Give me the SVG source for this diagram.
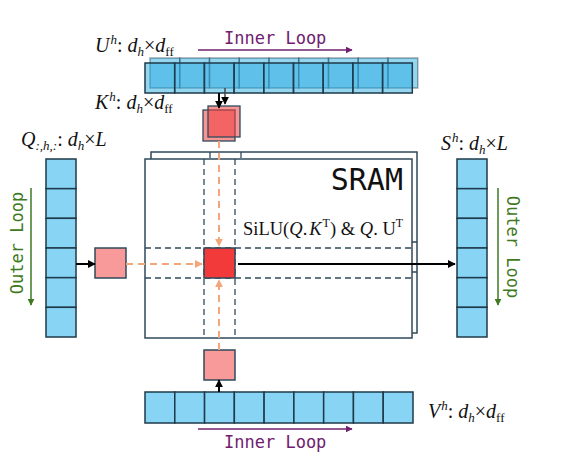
<svg xmlns="http://www.w3.org/2000/svg" width="561" height="464" viewBox="0 0 561 464">
<defs>
<style>
.cellA{fill:#29abe2;fill-opacity:0.5;stroke:#1f3a4a;stroke-opacity:0.45;stroke-width:1.5}
.cellB{fill:#29abe2;fill-opacity:0.5;stroke:#1f3a4a;stroke-width:1.5}
.cell{fill:#87d4f4;stroke:#1f3a4a;stroke-width:1.5}
.box{fill:#ffffff;stroke:#2e4a5a;stroke-width:1.5}
.dash{fill:none;stroke:#2e4a5a;stroke-width:1.3;stroke-dasharray:6,4}
.odash{fill:none;stroke:#f4a57a;stroke-width:2;stroke-dasharray:7,5}
.blk{fill:none;stroke:#000;stroke-width:2}
.pur{fill:none;stroke:#70206e;stroke-width:1.5}
.grn{fill:none;stroke:#3f7a23;stroke-width:1.5}
.math{font-family:"Liberation Serif","DejaVu Serif",serif;font-size:20px;fill:#111}
.it{font-style:italic}
.mono{font-family:"DejaVu Sans Mono","Liberation Mono",monospace;font-size:17px}
.pink{fill:#f89a9a;stroke:#2e4a5a;stroke-width:1.5}
.redt{fill:#f03c3c;fill-opacity:0.55;stroke:#2e4a5a;stroke-width:1.3}
</style>
<marker id="ab" viewBox="0 0 10 10" refX="9" refY="5" markerWidth="8" markerHeight="8" markerUnits="userSpaceOnUse" orient="auto"><path d="M0,0 L10,5 L0,10 z" fill="#000"/></marker>
<marker id="ao" viewBox="0 0 10 10" refX="9" refY="5" markerWidth="8" markerHeight="8" markerUnits="userSpaceOnUse" orient="auto"><path d="M0,0 L10,5 L0,10 z" fill="#f4a57a"/></marker>
<marker id="ap" viewBox="0 0 10 10" refX="9" refY="5" markerWidth="7" markerHeight="7" markerUnits="userSpaceOnUse" orient="auto"><path d="M0,0 L10,5 L0,10 z" fill="#70206e"/></marker>
<marker id="ag" viewBox="0 0 10 10" refX="9" refY="5" markerWidth="7" markerHeight="7" markerUnits="userSpaceOnUse" orient="auto"><path d="M0,0 L10,5 L0,10 z" fill="#3f7a23"/></marker>
</defs>

<g id="sram">
<rect class="box" x="151" y="152" width="266" height="181"/>
<line class="dash" x1="210" y1="152" x2="210" y2="333"/>
<line class="dash" x1="241" y1="152" x2="241" y2="333"/>
<line class="dash" x1="151" y1="242" x2="417" y2="242"/>
<line class="dash" x1="151" y1="272" x2="417" y2="272"/>
<rect class="box" x="145" y="159" width="267" height="179"/>
<line class="dash" x1="204" y1="159" x2="204" y2="338"/>
<line class="dash" x1="235" y1="159" x2="235" y2="338"/>
<line class="dash" x1="145" y1="248" x2="412" y2="248"/>
<line class="dash" x1="145" y1="278" x2="412" y2="278"/>
<text x="403" y="190" text-anchor="end" font-family="DejaVu Sans Mono,Liberation Mono,monospace" font-size="30" fill="#111">SRAM</text>
<text class="math" x="243" y="235" style="font-size:18.5px"><tspan>SiLU(</tspan><tspan class="it">Q</tspan><tspan>.</tspan><tspan class="it" dx="2">K</tspan><tspan font-size="12" dy="-8" dx="1">T</tspan><tspan dy="8">) &amp; </tspan><tspan class="it">Q</tspan><tspan>. U</tspan><tspan font-size="12" dy="-8">T</tspan></text>
</g>

<g id="U-K-bar">
<g>
<rect class="cellA" x="150" y="58" width="29.75" height="30"/>
<rect class="cellA" x="179.75" y="58" width="29.75" height="30"/>
<rect class="cellA" x="209.5" y="58" width="29.75" height="30"/>
<rect class="cellA" x="239.25" y="58" width="29.75" height="30"/>
<rect class="cellA" x="269" y="58" width="29.75" height="30"/>
<rect class="cellA" x="298.75" y="58" width="29.75" height="30"/>
<rect class="cellA" x="328.5" y="58" width="29.75" height="30"/>
<rect class="cellA" x="358.25" y="58" width="29.75" height="30"/>
<rect class="cellA" x="388" y="58" width="29.75" height="30"/>
</g>
<g>
<rect class="cellB" x="145" y="63" width="29.7" height="30"/>
<rect class="cellB" x="174.7" y="63" width="29.7" height="30"/>
<rect class="cellB" x="204.4" y="63" width="29.7" height="30"/>
<rect class="cellB" x="234.1" y="63" width="29.7" height="30"/>
<rect class="cellB" x="263.8" y="63" width="29.7" height="30"/>
<rect class="cellB" x="293.5" y="63" width="29.7" height="30"/>
<rect class="cellB" x="323.2" y="63" width="29.7" height="30"/>
<rect class="cellB" x="352.9" y="63" width="29.7" height="30"/>
<rect class="cellB" x="382.6" y="63" width="29.7" height="30"/>
</g>
<text class="math" x="95" y="52"><tspan class="it">U</tspan><tspan font-size="13" dy="-8" dx="1" class="it">h</tspan><tspan dy="8">: </tspan><tspan class="it">d</tspan><tspan font-size="13" dy="4" class="it">h</tspan><tspan dy="-4">×</tspan><tspan class="it">d</tspan><tspan font-size="13" dy="4">ff</tspan></text>
<text class="math" x="95" y="109"><tspan class="it">K</tspan><tspan font-size="13" dy="-8" dx="1" class="it">h</tspan><tspan dy="8">: </tspan><tspan class="it">d</tspan><tspan font-size="13" dy="4" class="it">h</tspan><tspan dy="-4">×</tspan><tspan class="it">d</tspan><tspan font-size="13" dy="4">ff</tspan></text>
<text class="mono" x="224" y="44" fill="#70206e">Inner Loop</text>
</g>

<g id="kv-tile-top">
<rect class="redt" x="203" y="110" width="32" height="31"/>
<rect class="redt" x="208" y="106" width="32" height="31"/>
</g>

<g id="Q-col">
<rect class="cell" x="46" y="159" width="30" height="29.67"/>
<rect class="cell" x="46" y="188.67" width="30" height="29.67"/>
<rect class="cell" x="46" y="218.33" width="30" height="29.67"/>
<rect class="cell" x="46" y="248" width="30" height="29.67"/>
<rect class="cell" x="46" y="277.67" width="30" height="29.67"/>
<rect class="cell" x="46" y="307.33" width="30" height="29.67"/>
<text class="math" x="21" y="146"><tspan class="it">Q</tspan><tspan font-size="13" dy="4" class="it">:,h,:</tspan><tspan dy="-4">: </tspan><tspan class="it">d</tspan><tspan font-size="13" dy="4" class="it">h</tspan><tspan dy="-4">×</tspan><tspan class="it">L</tspan></text>
<text class="mono" x="17" y="243" fill="#3f7a23" text-anchor="middle" dominant-baseline="central" transform="rotate(-90 17 243)">Outer Loop</text>
</g>

<g id="q-tile">
<rect class="pink" x="95" y="248" width="31" height="30"/>
</g>

<g id="center-tile">
<rect fill="#f33a3a" stroke="#2e4a5a" stroke-width="1.5" x="204" y="248" width="31" height="30"/>
</g>

<g id="S-col">
<rect class="cell" x="457" y="159" width="30" height="29.67"/>
<rect class="cell" x="457" y="188.67" width="30" height="29.67"/>
<rect class="cell" x="457" y="218.33" width="30" height="29.67"/>
<rect class="cell" x="457" y="248" width="30" height="29.67"/>
<rect class="cell" x="457" y="277.67" width="30" height="29.67"/>
<rect class="cell" x="457" y="307.33" width="30" height="29.67"/>
<text class="math" x="441" y="150"><tspan class="it">S</tspan><tspan font-size="13" dy="-8" dx="1" class="it">h</tspan><tspan dy="8">: </tspan><tspan class="it">d</tspan><tspan font-size="13" dy="4" class="it">h</tspan><tspan dy="-4">×</tspan><tspan class="it">L</tspan></text>
<text class="mono" x="513" y="247" fill="#3f7a23" text-anchor="middle" dominant-baseline="central" transform="rotate(90 513 247)">Outer Loop</text>
</g>

<g id="v-tile">
<rect class="pink" x="204" y="350" width="31" height="30"/>
</g>

<g id="V-bar">
<rect class="cell" x="145" y="392" width="29.78" height="31"/>
<rect class="cell" x="174.78" y="392" width="29.78" height="31"/>
<rect class="cell" x="204.56" y="392" width="29.78" height="31"/>
<rect class="cell" x="234.33" y="392" width="29.78" height="31"/>
<rect class="cell" x="264.11" y="392" width="29.78" height="31"/>
<rect class="cell" x="293.89" y="392" width="29.78" height="31"/>
<rect class="cell" x="323.67" y="392" width="29.78" height="31"/>
<rect class="cell" x="353.44" y="392" width="29.78" height="31"/>
<rect class="cell" x="383.22" y="392" width="29.78" height="31"/>
<text class="math" x="428" y="418"><tspan class="it">V</tspan><tspan font-size="13" dy="-8" dx="1" class="it">h</tspan><tspan dy="8">: </tspan><tspan class="it">d</tspan><tspan font-size="13" dy="4" class="it">h</tspan><tspan dy="-4">×</tspan><tspan class="it">d</tspan><tspan font-size="13" dy="4">ff</tspan></text>
<text class="mono" x="224" y="448" fill="#70206e">Inner Loop</text>
</g>

<g id="connectors">
<line class="pur" x1="198" y1="50" x2="352" y2="50" marker-end="url(#ap)"/>
<line class="pur" x1="198" y1="429" x2="352" y2="429" marker-end="url(#ap)"/>
<line class="grn" x1="31" y1="188" x2="31" y2="305" marker-end="url(#ag)"/>
<line class="grn" x1="498" y1="188" x2="498" y2="305" marker-end="url(#ag)"/>
<line class="blk" x1="76" y1="264" x2="95" y2="264" marker-end="url(#ab)"/>
<line class="blk" x1="238" y1="264" x2="455" y2="264" marker-end="url(#ab)"/>
<line stroke="#444" stroke-width="1.5" x1="225" y1="88" x2="225" y2="104" marker-end="url(#ab)"/>
<line class="blk" x1="219" y1="93" x2="219" y2="108" marker-end="url(#ab)"/>
<line class="blk" x1="219" y1="392" x2="219" y2="380" marker-end="url(#ab)"/>
<line class="odash" x1="219" y1="141" x2="219" y2="246" marker-end="url(#ao)"/>
<line class="odash" x1="219" y1="350" x2="219" y2="280" marker-end="url(#ao)"/>
<line class="odash" x1="126" y1="264" x2="202" y2="264" marker-end="url(#ao)"/>
</g>
</svg>
